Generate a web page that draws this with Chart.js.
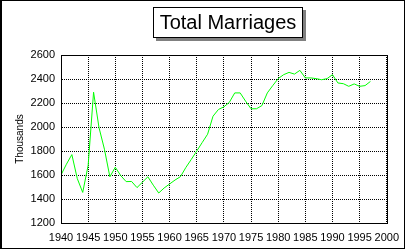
<!DOCTYPE html>
<html>
<head>
<meta charset="utf-8">
<script src="https://cdn.jsdelivr.net/npm/chart.js@4/dist/chart.umd.min.js"></script>
<style>
  html, body { margin: 0; padding: 0; background: #fff; }
  #wrap { position: relative; width: 407px; height: 251px; overflow: hidden; }
  #frame {
    position: absolute; left: 0; top: 0; width: 405px; height: 249px;
    box-sizing: border-box; border: 1px solid #000; border-left-width: 2px;
    pointer-events: none;
  }
  #title {
    position: absolute; left: 153px; top: 7px; width: 150px; height: 31px;
    box-sizing: border-box; border: 1px solid #000; background: #fff;
    box-shadow: 3px 3px 0 #808080;
    font: 20px "Liberation Sans", Arial, sans-serif; color: #000;
    text-align: center; line-height: 29px;
  }
  canvas { position: absolute; left: 0; top: 0; }
</style>
</head>
<body>
<div id="wrap">
  <canvas id="chart" width="407" height="251"></canvas>
  <div id="title">Total Marriages</div>
  <div id="frame"></div>
</div>
<script>
// values, in thousands
const years = [
  1940, 1941, 1942, 1943, 1944, 1945, 1946, 1947, 1948, 1949,
  1950, 1951, 1952, 1953, 1954, 1955, 1956, 1957, 1958, 1959,
  1960, 1961, 1962, 1963, 1964, 1965, 1966, 1967, 1968, 1969,
  1970, 1971, 1972, 1973, 1974, 1975, 1976, 1977, 1978, 1979,
  1980, 1981, 1982, 1983, 1984, 1985, 1986, 1987, 1988, 1989,
  1990, 1991, 1992, 1993, 1994, 1995, 1996, 1997
];
const marriages = [
  1600, 1690, 1770, 1570, 1455, 1680, 2290, 1995, 1815, 1585,
  1665, 1595, 1545, 1546, 1495, 1540, 1585, 1515, 1450, 1492,
  1525, 1558, 1586, 1663, 1730, 1800, 1870, 1940, 2090, 2146,
  2168, 2205, 2284, 2284, 2215, 2152, 2152, 2178, 2284, 2345,
  2403, 2436, 2455, 2441, 2472, 2409, 2409, 2403, 2394, 2403,
  2436, 2367, 2361, 2339, 2359, 2339, 2345, 2380
];
const yTicks = [1200, 1400, 1600, 1800, 2000, 2200, 2400, 2600];
const yLabel = 'Thousands';

const points = years.map((yr, i) => ({ x: yr, y: marriages[i] }));
const tickFont = { family: '"Liberation Sans", Arial, sans-serif', size: 11 };

// solid box round the plot area, gridlines inside stay dotted
const plotBox = {
  id: 'plotBox',
  afterDraw(chart) {
    const a = chart.chartArea;
    const ctx = chart.ctx;
    ctx.save();
    ctx.strokeStyle = '#000';
    ctx.lineWidth = 1;
    ctx.setLineDash([]);
    ctx.strokeRect(Math.round(a.left) + 0.5, Math.round(a.top) + 0.5,
      Math.round(a.right - a.left), Math.round(a.bottom - a.top));
    ctx.restore();
  }
};

new Chart(document.getElementById('chart'), {
  type: 'line',
  data: {
    datasets: [{
      data: points,
      borderColor: '#00ff00',
      borderWidth: 1,
      pointRadius: 0,
      tension: 0,
      fill: false
    }]
  },
  options: {
    responsive: false,
    animation: false,
    layout: { padding: { left: 0, top: 55, right: 13, bottom: 0 } },
    plugins: {
      legend: { display: false },
      tooltip: { enabled: false },
      title: { display: false }
    },
    scales: {
      x: {
        type: 'linear',
        min: 1940,
        max: 2000,
        ticks: {
          stepSize: 5,
          color: '#000',
          font: tickFont,
          padding: 8,
          maxRotation: 0,
          callback: v => String(v)
        },
        grid: { color: '#000', lineWidth: 1, drawTicks: false },
        border: { color: '#000', dash: [1, 1] },
        afterFit: s => { s.height = 28; }
      },
      y: {
        min: 1200,
        max: 2600,
        afterBuildTicks: s => { s.ticks = yTicks.map(v => ({ value: v })); },
        ticks: {
          color: '#000',
          font: tickFont,
          padding: 6,
          callback: v => String(v)
        },
        grid: { color: '#000', lineWidth: 1, drawTicks: false },
        border: { color: '#000', dash: [1, 1] },
        title: {
          display: true,
          text: yLabel,
          color: '#000',
          font: { family: '"Liberation Sans", Arial, sans-serif', size: 10 },
          padding: { top: 14, bottom: 0 }
        },
        afterFit: s => { s.width = 61; }
      }
    }
  },
  plugins: [plotBox]
});
</script>
</body>
</html>
